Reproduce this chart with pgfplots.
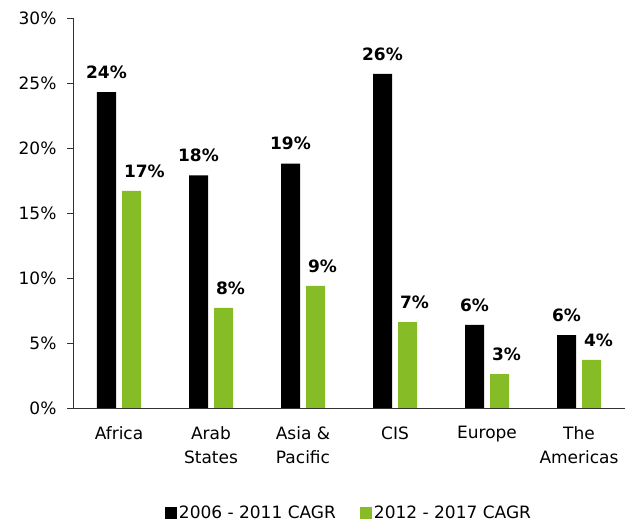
\documentclass[border=0pt]{standalone}
\usepackage{pgfplots}
\pgfplotsset{compat=1.18}
\usepackage{fontspec}
\setmainfont{DejaVu Sans}
\definecolor{dgreen}{HTML}{86BC25}
\definecolor{axgray}{RGB}{50,50,50}
\newcommand{\chartfont}{\fontsize{17}{24}\selectfont}

\begin{document}
\begin{tikzpicture}
\begin{axis}[
    name=ax,
    scale only axis,
    width=552pt, height=390pt,
    ybar, bar width=19pt, ybar=6pt,
    xmin=-0.5, xmax=5.5,
    ymin=0, ymax=30,
    axis lines=left,
    axis line style={-, draw=axgray, line width=0.8pt},
    /pgf/number format/assume math mode=true,
    ytick={0,5,...,30},
    yticklabel={\pgfmathprintnumber{\tick}\%},
    yticklabel style={font=\chartfont, xshift=-7pt},
    ytick style={draw=axgray, line width=0.8pt},
    tick align=outside, major tick length=6pt,
    xtick={0,...,5},
    xticklabels={Africa, {Arab\\States}, {Asia \&\\Pacific}, CIS, Europe, {The\\Americas}},
    xticklabel style={font=\chartfont, align=center, yshift=-9pt},
    x tick style={draw=none},
    nodes near coords={\pgfmathprintnumber[fixed,precision=0]{\pgfplotspointmeta}\%},
    every node near coord/.append style={font=\bfseries\chartfont, text=black, yshift=10pt},
    legend style={at={(0.5,-0.268)}, anchor=center, draw=none, fill=none,
        legend columns=2, font=\chartfont,
        /tikz/every even column/.append style={column sep=22pt},
        /tikz/every node/.append style={inner xsep=2pt}},
    legend image code/.code={\fill[#1] (0pt,-6pt) rectangle (12pt,6pt);},
]
\addplot[fill=black, draw=none] coordinates {
    (0,24.3) (1,17.9) (2,18.8) (3,25.7) (4,6.4) (5,5.6)
};
\addplot[fill=dgreen, draw=none,
    every node near coord/.append style={anchor=south west, xshift=-11pt}] coordinates {
    (0,16.7) (1,7.7) (2,9.4) (3,6.6) (4,2.6) (5,3.7)
};
\legend{2006 - 2011 CAGR, 2012 - 2017 CAGR}
\end{axis}
\pgfresetboundingbox
\path[use as bounding box] ([shift={(-73pt,-115pt)}]ax.south west) rectangle ([shift={(4pt,18pt)}]ax.north east);
\end{tikzpicture}
\end{document}
